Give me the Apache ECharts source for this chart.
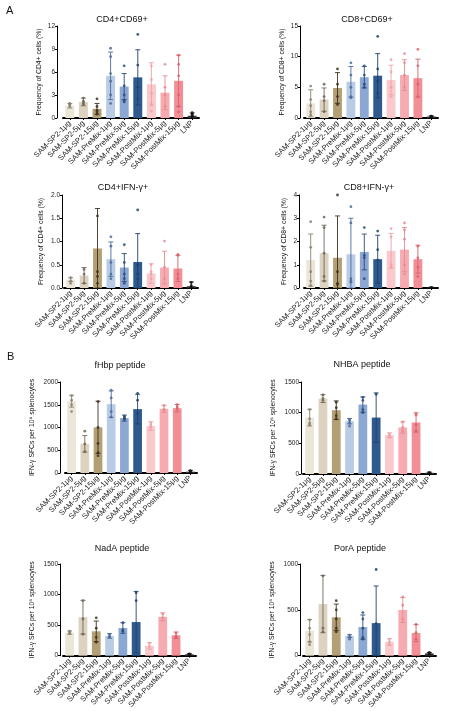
<!DOCTYPE html>
<html>
<head>
<meta charset="utf-8">
<script src="https://cdn.jsdelivr.net/npm/echarts/dist/echarts.min.js"></script>
<style>
  html, body { margin: 0; padding: 0; background: #fff; }
  #main { width: 465px; height: 711px; }
</style>
</head>
<body>
<div id="main"></div>
<script>
// groups on the x axis
var groups = ['SAM-SP2-1μg', 'SAM-SP2-5μg', 'SAM-SP2-15μg', 'SAM-PreMix-1μg', 'SAM-PreMix-5μg',
  'SAM-PreMix-15μg', 'SAM-PostMix-1μg', 'SAM-PostMix-5μg', 'SAM-PostMix-15μg', 'LNP'];

// A - CD4+CD69+
var cd4cd69Mean = [1.6, 2.1, 1.2, 5.5, 4.1, 5.3, 4.4, 3.3, 4.85, 0.3];
var cd4cd69Sd = [0.3, 0.5, 0.7, 3.1, 1.7, 3.6, 2.8, 2.2, 3.35, 0.35];
var cd4cd69Pts = [[1.5, 1.7, 1.8, 1.9], [2.6, 2.2, 1.8, 2.0], [2.5, 1.5, 1.0, 0.8, 0.5], [9.1, 8.0, 5.8, 4.8, 3.0, 1.9],
  [6.8, 4.2, 3.0, 2.3, 2.1], [10.9, 6.9, 4.0, 2.5], [6.8, 5.0, 3.2, 1.8, 0.9], [7.0, 4.0, 3.0, 1.5],
  [8.2, 7.0, 5.5, 3.0, 1.5, 0.8], [0.7, 0.5, 0.3, 0.2]];
var cd4cd69Ticks = [0, 3, 6, 9, 12];

// A - CD8+CD69+
var cd8cd69Mean = [2.4, 3.0, 4.9, 5.9, 6.65, 6.9, 6.2, 7.0, 6.5, 0.25];
var cd8cd69Sd = [2.2, 1.9, 2.5, 2.5, 1.75, 3.6, 2.4, 2.5, 3.1, 0.1];
var cd8cd69Pts = [[5.2, 3.0, 2.0, 1.0, 0.5], [5.5, 3.5, 2.8, 1.0], [8.0, 5.5, 3.5, 2.2], [9.0, 7.0, 5.0, 3.5, 3.3],
  [8.5, 7.0, 5.5, 5.0], [13.3, 8.0, 6.0, 4.0], [9.5, 7.5, 5.0, 3.5], [10.5, 9.0, 7.0, 5.0],
  [11.2, 8.5, 5.5, 3.5], [0.3, 0.2]];
var cd8cd69Ticks = [0, 5, 10, 15];

// A - CD4+IFN-γ+
var cd4ifnMean = [0.18, 0.27, 0.85, 0.62, 0.44, 0.56, 0.31, 0.44, 0.42, 0.04];
var cd4ifnSd = [0.04, 0.17, 0.86, 0.37, 0.3, 0.61, 0.21, 0.35, 0.28, 0.09];
var cd4ifnPts = [[0.22, 0.15, 0.1], [0.4, 0.3, 0.1], [1.55, 0.35, 0.25, 0.1], [1.1, 0.9, 0.55, 0.3, 0.2],
  [0.93, 0.55, 0.3, 0.2, 0.1], [1.68, 0.5, 0.3, 0.2], [0.5, 0.35, 0.3, 0.2], [1.01, 0.45, 0.2],
  [0.72, 0.7, 0.3, 0.2], [0.12, 0.05, 0.02]];
var cd4ifnTicks = [0, 0.5, 1.0, 1.5, 2.0];

// A - CD8+IFN-γ+
var cd8ifnMean = [1.2, 1.5, 1.3, 1.45, 1.55, 1.24, 1.6, 1.65, 1.24, 0.02];
var cd8ifnSd = [1.12, 1.2, 1.8, 1.55, 0.77, 1.03, 0.75, 0.95, 0.6, 0.02];
var cd8ifnPts = [[2.85, 1.75, 0.7, 0.3, 0.1], [3.05, 2.6, 1.5, 0.5, 0.3], [4.0, 0.7, 0.2, 0.15], [3.5, 2.8, 0.4, 0.3, 0.25],
  [2.6, 1.4, 1.3, 0.4], [2.45, 1.65, 1.2], [2.55, 2.2, 1.0, 0.9], [2.8, 2.5, 2.1, 1.0, 0.6],
  [1.8, 1.3, 0.9, 0.5], [0.03]];
var cd8ifnTicks = [0, 1, 2, 3, 4];

// B - fHbp peptide
var fhbpMean = [1578, 640, 1004, 1513, 1207, 1404, 1033, 1411, 1425, 30];
var fhbpSd = [131, 182, 574, 291, 66, 327, 94, 80, 80, 28];
var fhbpPts = [[1700, 1600, 1500, 1350], [920, 640, 470], [1570, 1000, 650, 450, 380], [1820, 1650, 1350, 1230],
  [1250, 1220, 1200, 1180], [1750, 1600, 1300], [1100, 1050, 1000], [1480, 1400, 1380],
  [1500, 1450, 1420], [50, 30, 20]];
var fhbpTicks = [0, 500, 1000, 1500, 2000];

// B - NHBA peptide
var nhbaMean = [920, 1230, 1040, 861, 1132, 920, 634, 758, 840, 20];
var nhbaSd = [136, 65, 152, 44, 125, 402, 38, 92, 157, 10];
var nhbaPts = [[1050, 900, 830, 800], [1290, 1230, 1200], [1170, 1080, 950, 900], [890, 870, 830, 780],
  [1250, 1200, 1050, 1000], [1300], [650, 620, 600], [850, 760, 700],
  [980, 960, 800, 700], [25, 15]];
var nhbaTicks = [0, 500, 1000, 1500];

// B - NadA peptide
var nadaMean = [378, 631, 399, 324, 453, 550, 162, 636, 334, 22];
var nadaSd = [27, 275, 168, 37, 86, 502, 54, 65, 54, 10];
var nadaPts = [[400, 380, 360], [900, 600, 350], [620, 450, 300, 220], [350, 320, 300],
  [540, 420, 400], [1030, 900], [200, 150], [680, 620],
  [370, 320, 300], [30, 15]];
var nadaTicks = [0, 500, 1000, 1500];

// B - PorA peptide
var poraMean = [272, 563, 419, 215, 312, 355, 150, 498, 247, 25];
var poraSd = [122, 312, 144, 14, 132, 405, 36, 136, 94, 10];
var poraPts = [[390, 300, 230, 150, 120], [870, 300, 260], [600, 500, 400, 300, 260], [225, 200, 180],
  [470, 400, 300, 200, 180], [940, 350], [180, 150, 120], [640, 550, 400],
  [340, 250, 180], [35, 20]];
var poraTicks = [0, 500, 1000];

var barColors = ['#ece6d8', '#dcd2bf', '#b49e73', '#b9cce6', '#8ba8d2', '#2e5a8e',
  '#fac9cc', '#f6abb0', '#f28f96', '#3a3a3a'];
var errColors = ['#8c8372', '#6f6758', '#3b3122', '#4b6b9b', '#2b4b7b', '#20416d',
  '#eda2a7', '#e58b92', '#d8626b', '#111111'];

var yNameCD4 = 'Frequency of CD4+ cells (%)';
var yNameCD8 = 'Frequency of CD8+ cells (%)';
var yNameSFC = 'IFN-γ SFCs per 10⁶ splenocytes';

var panels = [
  { title: 'CD4+CD69+', mean: cd4cd69Mean, sd: cd4cd69Sd, pts: cd4cd69Pts, ticks: cd4cd69Ticks, yName: yNameCD4, dec: 0,
    grid: [63, 26, 136, 92], offset: 6, nameGap: 14, tx: 122, ty: 20 },
  { title: 'CD8+CD69+', mean: cd8cd69Mean, sd: cd8cd69Sd, pts: cd8cd69Pts, ticks: cd8cd69Ticks, yName: yNameCD8, dec: 0,
    grid: [304, 26, 134, 92], offset: 4, nameGap: 14, tx: 367, ty: 20 },
  { title: 'CD4+IFN-γ+', mean: cd4ifnMean, sd: cd4ifnSd, pts: cd4ifnPts, ticks: cd4ifnTicks, yName: yNameCD4, dec: 1,
    grid: [64, 195, 134, 93], offset: 2, nameGap: 17, tx: 123, ty: 188 },
  { title: 'CD8+IFN-γ+', mean: cd8ifnMean, sd: cd8ifnSd, pts: cd8ifnPts, ticks: cd8ifnTicks, yName: yNameCD8, dec: 0,
    grid: [304, 195, 134, 93], offset: 5, nameGap: 11, tx: 369, ty: 188 },
  { title: 'fHbp peptide', mean: fhbpMean, sd: fhbpSd, pts: fhbpPts, ticks: fhbpTicks, yName: yNameSFC, dec: 0,
    grid: [65, 382, 132, 91], offset: 5, nameGap: 24, tx: 120, ty: 366 },
  { title: 'NHBA peptide', mean: nhbaMean, sd: nhbaSd, pts: nhbaPts, ticks: nhbaTicks, yName: yNameSFC, dec: 0,
    grid: [303, 382, 133, 92], offset: 2, nameGap: 24, tx: 362, ty: 365 },
  { title: 'NadA peptide', mean: nadaMean, sd: nadaSd, pts: nadaPts, ticks: nadaTicks, yName: yNameSFC, dec: 0,
    grid: [63, 564, 133, 93], offset: 3, nameGap: 24, tx: 122, ty: 549 },
  { title: 'PorA peptide', mean: poraMean, sd: poraSd, pts: poraPts, ticks: poraTicks, yName: yNameSFC, dec: 0,
    grid: [303, 564, 133, 93], offset: 3, nameGap: 24, tx: 360, ty: 549 }
];

function errRender(params, api) {
  var x = api.value(0);
  var pLo = api.coord([x, api.value(1)]);
  var pHi = api.coord([x, api.value(2)]);
  var cap = 2.5;
  var st = { stroke: api.visual('color'), lineWidth: 0.9 };
  return {
    type: 'group',
    children: [
      { type: 'line', shape: { x1: pHi[0], y1: pHi[1], x2: pLo[0], y2: pLo[1] }, style: st },
      { type: 'line', shape: { x1: pHi[0] - cap, y1: pHi[1], x2: pHi[0] + cap, y2: pHi[1] }, style: st },
      { type: 'line', shape: { x1: pLo[0] - cap, y1: pLo[1], x2: pLo[0] + cap, y2: pLo[1] }, style: st }
    ]
  };
}

var grids = [], xAxes = [], yAxes = [], series = [], texts = [];
var font = '"Liberation Sans", Arial, sans-serif';

panels.forEach(function (p, k) {
  grids.push({ left: p.grid[0], top: p.grid[1], width: p.grid[2], height: p.grid[3], containLabel: false });
  xAxes.push({
    type: 'category', gridIndex: k, data: groups,
    axisLine: { lineStyle: { color: '#000', width: 2 } },
    axisTick: { show: true, alignWithLabel: true, length: 2, lineStyle: { color: '#000' } },
    axisLabel: { rotate: 45, interval: 0, fontSize: 7.6, color: '#222', margin: 4 }
  });
  var t = p.ticks;
  yAxes.push({
    type: 'value', gridIndex: k, min: t[0], max: t[t.length - 1], interval: t[1] - t[0], offset: p.offset,
    splitLine: { show: false },
    axisLine: { show: true, lineStyle: { color: '#000', width: 1 } },
    axisTick: { show: true, length: 2, lineStyle: { color: '#000' } },
    axisLabel: { fontSize: 6.5, color: '#222', margin: 2,
      formatter: function (v) { return v.toFixed(p.dec); } },
    name: p.yName, nameLocation: 'middle', nameGap: p.nameGap,
    nameTextStyle: { fontSize: 6.8, color: '#111' }
  });
  series.push({
    type: 'bar', xAxisIndex: k, yAxisIndex: k, barWidth: '66%',
    data: p.mean.map(function (m, i) { return { value: m, itemStyle: { color: barColors[i] } }; }),
    z: 2
  });
  series.push({
    type: 'custom', xAxisIndex: k, yAxisIndex: k, renderItem: errRender,
    data: p.mean.map(function (m, i) {
      return { value: [i, Math.max(t[0], m - p.sd[i]), m + p.sd[i]], itemStyle: { color: errColors[i] } };
    }),
    z: 3
  });
  var dots = [];
  p.pts.forEach(function (arr, i) {
    arr.forEach(function (v) { dots.push({ value: [i, v], itemStyle: { color: errColors[i], opacity: 0.85 } }); });
  });
  series.push({
    type: 'scatter', xAxisIndex: k, yAxisIndex: k, symbolSize: 2.8, data: dots, z: 4
  });
  texts.push({
    type: 'text', x: p.tx, y: p.ty,
    style: { text: p.title, fontSize: 9, fill: '#111', fontFamily: font, align: 'center', verticalAlign: 'middle' }
  });
});

texts.push({ type: 'text', x: 6, y: 5, style: { text: 'A', fontSize: 11, fill: '#111', fontFamily: font } });
texts.push({ type: 'text', x: 7, y: 351, style: { text: 'B', fontSize: 11, fill: '#111', fontFamily: font } });

var chart = echarts.init(document.getElementById('main'));
chart.setOption({
  animation: false,
  backgroundColor: '#fff',
  textStyle: { fontFamily: font },
  grid: grids,
  xAxis: xAxes,
  yAxis: yAxes,
  series: series,
  graphic: texts
});
</script>
</body>
</html>
